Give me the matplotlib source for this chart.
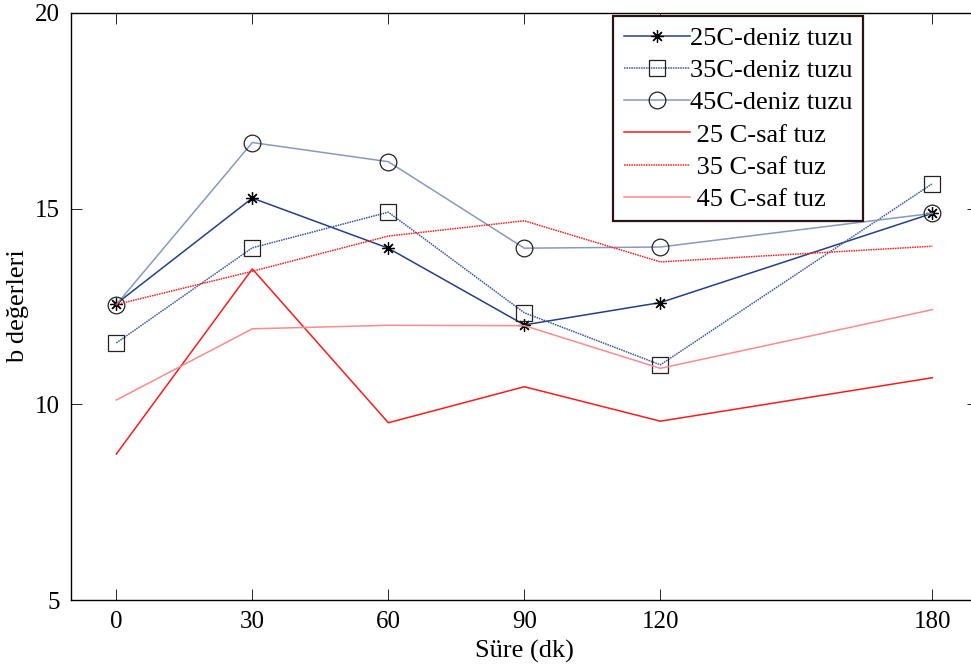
import matplotlib.pyplot as plt

plt.rcParams['font.family'] = ['Liberation Serif', 'DejaVu Serif']

sure = [0, 30, 60, 90, 120, 180]

deniz25 = [12.57, 15.27, 13.99, 12.03, 12.60, 14.88]
deniz35 = [11.57, 14.00, 14.91, 12.34, 11.01, 15.64]
deniz45 = [12.55, 16.69, 16.20, 13.99, 14.02, 14.88]
saf25 = [8.73, 13.46, 9.53, 10.45, 9.57, 10.68]
saf35 = [12.55, 13.40, 14.30, 14.69, 13.64, 14.04]
saf45 = [10.11, 11.93, 12.02, 12.01, 10.92, 12.42]

labels = ['25C-deniz tuzu', '35C-deniz tuzu', '45C-deniz tuzu',
          ' 25 C-saf tuz', ' 35 C-saf tuz', ' 45 C-saf tuz']

fig = plt.figure(figsize=(9.71, 6.69), dpi=100)
ax = fig.add_axes([0.0731, 0.1031, 0.9338, 0.8775])

dotted = (0, (1, 0.6))
ax.plot(sure, deniz25, color='#233f85', lw=1.1, marker=(8, 2, 0), ms=9,
        mec='black', mew=0.9, label=labels[0])
ax.plot(sure, deniz35, color='#3a56a0', lw=1.1, ls=dotted, marker='s', ms=11,
        mfc='none', mec='#222222', mew=0.9, label=labels[1])
ax.plot(sure, deniz45, color='#8899bf', lw=1.1, marker='o', ms=12,
        mfc='none', mec='#222222', mew=0.9, label=labels[2])
ax.plot(sure, saf25, color='#ff1a1a', lw=1.1, label=labels[3])
ax.plot(sure, saf35, color='#ff2020', lw=1.1, ls=dotted, label=labels[4])
ax.plot(sure, saf45, color='#ff8a8a', lw=1.1, label=labels[5])

ax.set_xlim(-10, 190)
ax.set_ylim(5, 20)
ax.set_xticks(sure)
ax.set_yticks([5, 10, 15, 20])
ax.tick_params(direction='in', length=8, width=0.6, top=True, right=True,
               labelsize=18, pad=8)
for s in ax.spines.values():
    s.set_linewidth(1.0)

ax.set_xlabel('Süre (dk)', fontsize=19, labelpad=5)
ax.set_ylabel('b değerleri', fontsize=19, labelpad=4)

leg = ax.legend(loc='upper left', bbox_to_anchor=(613 / 971, 1 - 16 / 669),
                bbox_transform=fig.transFigure, borderaxespad=0,
                fontsize=19, handlelength=2.5, handletextpad=0.0,
                labelspacing=0.33, borderpad=0.4, fancybox=False,
                framealpha=1)
leg.get_frame().set_edgecolor('#2a1414')
leg.get_frame().set_linewidth(1.6)

fig.savefig('out.png', dpi=100)
